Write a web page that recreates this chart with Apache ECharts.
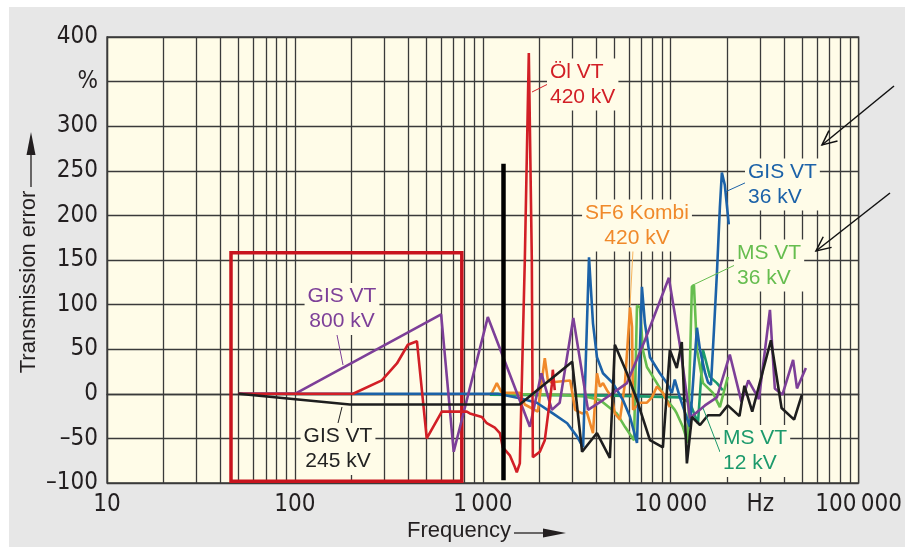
<!DOCTYPE html>
<html>
<head>
<meta charset="utf-8">
<script src="https://cdn.jsdelivr.net/npm/echarts@6/dist/echarts.min.js"></script>
<style>
  html, body { margin: 0; padding: 0; background: #ffffff; }
  #chart { width: 905px; height: 547px; }
</style>
</head>
<body>
<div id="chart"></div>
<script>
// Fonts
const NARROW = '"Liberation Sans Narrow", "Arial Narrow", "DejaVu Sans Condensed", sans-serif';
const SANS = '"Liberation Sans", Arial, sans-serif';

// Frequency axis (Hz, logarithmic) labels
const freqLabelValues = [10, 100, 1000, 10000, 30000, 100000];
const freqLabelTexts = ['10', '100', '1\u2009000', '10\u2009000', 'Hz', '100\u2009000'];

// Transmission error axis (%)
const errMin = -100;
const errMax = 400;
const errStep = 50;
const errLabelTexts = { '-100': '\u2013100', '-50': '\u201350', '350': '%' };

// Curves: [frequency in Hz, transmission error in %]
const gisVt800 = [[50,0],[100,0],[600,89],[700,-65],[1063,86],[1780,-37],[2050,23],[2330,-18],[2565,-10],[3030,85],[3630,-18],[4360,-7],[5850,12],[7290,60],[9775,130],[11180,55],[12650,-27],[15210,-13],[17610,-4],[20620,44],[23790,-9],[25880,15],[29460,-6],[33730,94],[35800,6],[39300,-1],[44800,38],[46980,6],[52380,29]];

const gisVt245 = [[50,0],[196,-12],[1570,-12],[2990,36],[3375,-65],[4050,-44],[4744,-72],[5042,55],[5850,23],[6613,-7],[7751,-52],[9085,-60],[9894,49],[10770,29],[11450,58],[12190,-78],[12960,-26],[14320,-35],[15780,-24],[18260,-24],[20120,-13],[23220,-25],[24670,9],[27150,-20],[34140,60],[38890,-16],[45350,-29],[49910,-1]];

const oilVt420 = [[50,0],[204,0],[290,15],[349,34],[399,55],[446,59],[503,-50],[605,-20],[822,-20],[853,-22],[988,-26],[1050,-33],[1158,-38],[1232,-44],[1277,-60],[1392,-69],[1480,-82],[1516,-88],[1574,-78],[1673,150],[1757,382],[1823,150],[1846,-71],[2011,-65],[2137,-52],[2329,10],[2357,27],[2415,4]];

const sf6Kombi420 = [[1113,0],[1187,12],[1262,1],[1574,1],[1673,-12],[1962,-20],[2137,40],[2219,15],[2329,13],[2917,15],[3100,-18],[3375,-22],[3570,-20],[3857,-44],[4050,23],[4202,8],[4360,12],[4575,4],[4862,-4],[5042,-22],[5368,-29],[5708,12],[6075,97],[6224,75],[6300,-18],[6858,-10],[7469,-10],[7942,-4],[8439,8],[9085,1],[9894,-15]];

const gisVt36 = [[50,0],[1200,0],[1574,-5],[1938,-10],[2357,-22],[2812,-33],[3177,-48],[3417,-60],[3674,153],[3857,79],[4050,41],[4360,23],[4921,12],[5571,-7],[6075,-26],[6613,-55],[7026,120],[7290,79],[7751,41],[8756,23],[9540,12],[10137,1],[10510,16],[11180,-4],[12650,-37],[13790,74],[14320,49],[15210,24],[15780,13],[16370,10],[16980,71],[17610,135],[18260,209],[18710,248],[19400,234],[20370,190]];

const msVt36 = [[1090,0],[2500,-1],[3500,-3],[4202,-7],[5166,-22],[5708,-37],[6380,-52],[6613,99],[6858,97],[7110,49],[7469,30],[8439,12],[9540,-7],[10510,-18],[10770,-22],[11600,-37],[12340,-55],[12960,120],[13290,122],[13790,49],[14850,12],[16770,1],[18260,-15],[20120,19]];

const msVt12 = [[1090,-1],[5000,-2],[11180,-4],[12650,-10],[13960,-33],[14850,49],[15210,41],[16170,19],[17610,12],[18940,4]];

// Annotations: marked frequency band and reference frequency
const bandBox = [[45.7, 158], [773, -98]];
const refFreq = 1280;
const refSpan = [-97, 258];

// Grid lines at 1..9 × each decade
const gridFreqs = [];
for (let d = 10; d < 100000; d *= 10) {
  for (let k = 1; k <= 9; k++) gridFreqs.push(d * k);
}
gridFreqs.push(100000);

const COLORS = {
  purple: '#7d3f98', black: '#1e1e1e', red: '#d21f26', orange: '#f0892a',
  blue: '#1c62a8', lgreen: '#66bd4f', teal: '#1d9a6c'
};
const CREAM = '#fffce8';
const GRIDLINE = '#3a3a3a';

function lineSeries(name, data, color, extra) {
  return Object.assign({
    name: name, type: 'line', data: data, symbol: 'none', smooth: false,
    lineStyle: { color: color, width: 2.6 }, itemStyle: { color: color },
    silent: true, animation: false
  }, extra || {});
}

// Callout label with cream box
function callout(text, x, y, color, align) {
  return {
    type: 'text', x: x, y: y, z: 100, silent: true,
    style: {
      text: text, fill: color, font: '21px ' + SANS, lineHeight: 25,
      align: align, verticalAlign: 'middle',
      backgroundColor: CREAM, padding: [1, 3, 1, 3]
    }
  };
}
function leader(x1, y1, x2, y2, color) {
  return {
    type: 'line', z: 99, silent: true,
    shape: { x1: x1, y1: y1, x2: x2, y2: y2 },
    style: { stroke: color, lineWidth: 1 }
  };
}
function arrow(tx, ty, hx, hy) {
  const dx = tx - hx, dy = ty - hy, len = Math.hypot(dx, dy);
  const ux = dx / len, uy = dy / len, w = 16, a = 25 * Math.PI / 180;
  const c = Math.cos(a), s = Math.sin(a);
  const p1 = [hx + w * (ux * c - uy * s), hy + w * (ux * s + uy * c)];
  const p2 = [hx + w * (ux * c + uy * s), hy + w * (-ux * s + uy * c)];
  return [
    { type: 'line', z: 100, silent: true, shape: { x1: tx, y1: ty, x2: hx, y2: hy }, style: { stroke: '#111', lineWidth: 1.5 } },
    { type: 'polyline', z: 100, silent: true, shape: { points: [p1, [hx, hy], p2] }, style: { stroke: '#111', lineWidth: 1.5, fill: null } }
  ];
}

const chart = echarts.init(document.getElementById('chart'));

chart.setOption({
  animation: false,
  backgroundColor: '#ffffff',
  grid: {
    left: 107, top: 37, right: 46, bottom: 64,
    show: true, backgroundColor: CREAM, borderWidth: 1.3, borderColor: GRIDLINE
  },
  xAxis: {
    type: 'log', logBase: 10, min: 10, max: 100000,
    axisLine: { show: true, lineStyle: { color: GRIDLINE, width: 1.3 } },
    axisTick: { show: false, customValues: gridFreqs },
    splitLine: { show: true, lineStyle: { color: GRIDLINE, width: 1.3 } },
    axisLabel: {
      customValues: freqLabelValues,
      formatter: function (v) {
        const i = freqLabelValues.findIndex(f => Math.abs(f - v) / f < 1e-6);
        return i >= 0 ? freqLabelTexts[i] : '';
      },
      margin: 10, color: '#231f20', fontSize: 24, fontFamily: NARROW
    }
  },
  yAxis: {
    type: 'value', min: errMin, max: errMax, interval: errStep,
    axisLine: { show: true, lineStyle: { color: GRIDLINE, width: 1.3 } },
    axisTick: { show: false },
    splitLine: { show: true, lineStyle: { color: GRIDLINE, width: 1.3 } },
    axisLabel: {
      formatter: function (v) {
        const k = String(v);
        return errLabelTexts[k] !== undefined ? errLabelTexts[k] : k;
      },
      margin: 9, color: '#231f20', fontSize: 24, fontFamily: NARROW
    }
  },
  series: [
    lineSeries('MS VT 12 kV', msVt12, COLORS.teal),
    lineSeries('MS VT 36 kV', msVt36, COLORS.lgreen),
    lineSeries('SF6 Kombi 420 kV', sf6Kombi420, COLORS.orange),
    lineSeries('GIS VT 36 kV', gisVt36, COLORS.blue),
    lineSeries('GIS VT 800 kV', gisVt800, COLORS.purple),
    lineSeries('Öl VT 420 kV', oilVt420, COLORS.red, {
      markArea: {
        silent: true,
        itemStyle: { color: 'rgba(0,0,0,0)', borderColor: '#c8141e', borderWidth: 3.5 },
        data: [[{ coord: bandBox[0] }, { coord: bandBox[1] }]]
      }
    }),
    lineSeries('GIS VT 245 kV', gisVt245, COLORS.black, {
      markLine: {
        silent: true, symbol: 'none', label: { show: false },
        lineStyle: { color: '#000000', width: 4.5, type: 'solid' },
        data: [[{ coord: [refFreq, refSpan[0]] }, { coord: [refFreq, refSpan[1]] }]]
      }
    })
  ],
  graphic: [
    { type: 'rect', z: -100, silent: true, shape: { x: 9, y: 7, width: 896, height: 540 }, style: { fill: '#e7e7e7' } },
    // axis names with arrows
    { type: 'text', x: 29, y: 282, rotation: Math.PI / 2, z: 50, silent: true,
      style: { text: 'Transmission error', font: '22px ' + SANS, fill: '#231f20', align: 'center', verticalAlign: 'middle' } },
    { type: 'line', z: 50, silent: true, shape: { x1: 31, y1: 187, x2: 31, y2: 152 }, style: { stroke: '#231f20', lineWidth: 1.3 } },
    { type: 'polygon', z: 50, silent: true, shape: { points: [[31, 132], [26.5, 155], [35.5, 155]] }, style: { fill: '#231f20' } },
    { type: 'text', x: 459, y: 531, z: 50, silent: true,
      style: { text: 'Frequency', font: '22px ' + SANS, fill: '#231f20', align: 'center', verticalAlign: 'middle' } },
    { type: 'line', z: 50, silent: true, shape: { x1: 514, y1: 533, x2: 545, y2: 533 }, style: { stroke: '#231f20', lineWidth: 1.3 } },
    { type: 'polygon', z: 50, silent: true, shape: { points: [[566, 533], [543, 528.5], [543, 537.5]] }, style: { fill: '#231f20' } },
    // callouts
    leader(343, 365, 337, 335, COLORS.purple),
    callout('GIS VT\n800 kV', 342, 309, COLORS.purple, 'center'),
    leader(342, 407, 337, 427, COLORS.black),
    callout('GIS VT\n245 kV', 338, 449, '#222222', 'center'),
    leader(532, 92, 548, 84, COLORS.red),
    callout('Öl VT\n420 kV', 547, 84.5, COLORS.red, 'left'),
    leader(633, 250, 630, 306, '#f6b35c'),
    callout('SF6 Kombi\n420 kV', 637, 225.5, COLORS.orange, 'center'),
    leader(725, 192, 747, 182, COLORS.blue),
    callout('GIS VT\n36 kV', 745, 184.5, COLORS.blue, 'left'),
    leader(693, 285, 735, 265, COLORS.lgreen),
    callout('MS VT\n36 kV', 734, 265.5, COLORS.lgreen, 'left'),
    leader(703, 408, 720, 452, COLORS.teal),
    callout('MS VT\n12 kV', 720, 451, COLORS.teal, 'left')
  ].concat(arrow(894, 86, 822, 145), arrow(890, 193, 816, 251))
});
</script>
</body>
</html>
